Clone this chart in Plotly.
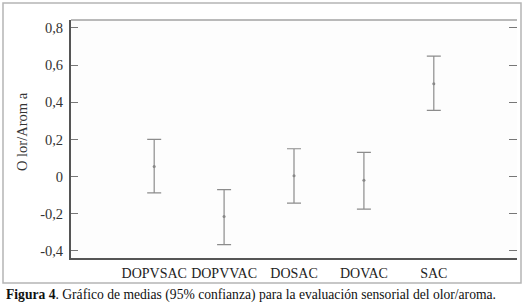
import plotly.graph_objects as go

categories = ["DOPVSAC", "DOPVVAC", "DOSAC", "DOVAC", "SAC"]
means = [0.054, -0.215, 0.005, -0.02, 0.50]
upper = [0.20, -0.07, 0.15, 0.13, 0.649]
lower = [-0.088, -0.366, -0.143, -0.175, 0.357]
ytick_vals = [-0.4, -0.2, 0, 0.2, 0.4, 0.6, 0.8]
ytick_text = ["-0,4", "-0,2", "0", "0,2", "0,4", "0,6", "0,8"]

err_plus = [u - m for u, m in zip(upper, means)]
err_minus = [m - l for m, l in zip(means, lower)]

W, H = 525, 305
L, R, T, B = 71, 517, 20, 258
xd = [L / W, R / W]
yd = [1 - B / H, 1 - T / H]
yr = [-0.438, 0.843]

serif = "Liberation Serif"

fig = go.Figure()
fig.add_trace(go.Scatter(
    x=list(range(len(categories))), y=means, mode="markers",
    marker=dict(size=3, color="#888888"),
    error_y=dict(type="data", symmetric=False, array=err_plus, arrayminus=err_minus,
                 color="#8c8c8c", thickness=1.2, width=7),
    showlegend=False, hoverinfo="skip"))
# invisible trace for right axis ticks
fig.add_trace(go.Scatter(x=[0], y=[0], yaxis="y2", mode="markers",
                         marker=dict(opacity=0), showlegend=False, hoverinfo="skip"))

fig.update_layout(
    width=W, height=H,
    margin=dict(l=0, r=0, t=0, b=0),
    paper_bgcolor="white", plot_bgcolor="#fdfdfd",
    xaxis=dict(domain=xd, range=[-1.19, 5.19], tickvals=list(range(len(categories))),
               ticktext=categories, showgrid=False, zeroline=False, ticks="",
               showline=True, linecolor="#555555", linewidth=2, ticklabelstandoff=1,
               tickfont=dict(family=serif, size=14, color="#222222"), anchor="y"),
    yaxis=dict(domain=yd, range=yr, tickvals=ytick_vals, ticktext=ytick_text,
               showgrid=False, zeroline=False, ticks="inside", ticklen=7,
               tickcolor="#777777", tickwidth=1.2, ticklabelstandoff=3,
               showline=True, linecolor="#555555", linewidth=2,
               tickfont=dict(family=serif, size=14.5, color="#333333"), anchor="x"),
    yaxis2=dict(overlaying="y", side="right", range=yr, tickvals=ytick_vals,
                showticklabels=False, showgrid=False, zeroline=False,
                ticks="inside", ticklen=8, tickcolor="#777777", tickwidth=1.2,
                showline=False, anchor="x"),
    shapes=[
        dict(type="rect", xref="paper", yref="paper", x0=3 / W, x1=521 / W,
             y0=1 - 283 / H, y1=1 - 3 / H, line=dict(color="#b5b5b5", width=1.5)),
        dict(type="line", xref="paper", yref="paper", x0=L / W, x1=R / W,
             y0=1 - T / H, y1=1 - T / H, line=dict(color="#777777", width=1.2)),
    ],
    annotations=[
        dict(text="O lor/Arom a", xref="paper", yref="paper", x=22 / W, y=1 - 132 / H,
             textangle=-90, showarrow=False, xanchor="center", yanchor="middle",
             font=dict(family=serif, size=14.5, color="#333333")),
        dict(text="<b>Figura 4</b>. Gráfico de medias (95% confianza) para la evaluación sensorial del olor/aroma.",
             xref="paper", yref="paper", x=4 / W, y=1 - 295 / H, showarrow=False,
             xanchor="left", yanchor="middle",
             font=dict(family=serif, size=13.6, color="#111111")),
    ],
)

fig.write_html("out.html", config={"displayModeBar": False},
               post_script="document.body.style.margin='0';document.body.style.overflow='hidden';")
